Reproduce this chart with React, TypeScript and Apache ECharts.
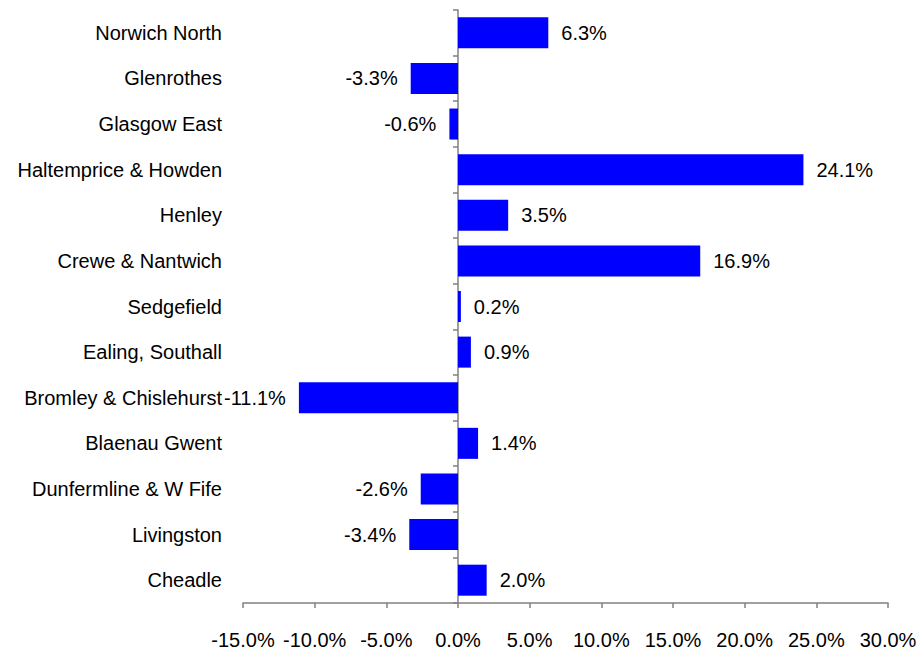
import React, { useEffect, useRef } from "react";
import * as echarts from "echarts";

const categories = [
  "Norwich North",
  "Glenrothes",
  "Glasgow East",
  "Haltemprice & Howden",
  "Henley",
  "Crewe & Nantwich",
  "Sedgefield",
  "Ealing, Southall",
  "Bromley & Chislehurst",
  "Blaenau Gwent",
  "Dunfermline & W Fife",
  "Livingston",
  "Cheadle",
];
const values = [6.3, -3.3, -0.6, 24.1, 3.5, 16.9, 0.2, 0.9, -11.1, 1.4, -2.6, -3.4, 2.0];

const FONT = "'Liberation Sans', Arial, sans-serif";
const FS = 20;

export default function App() {
  const ref = useRef<HTMLDivElement>(null);
  useEffect(() => {
    if (!ref.current) return;
    const chart = echarts.init(ref.current, undefined, { renderer: "svg" });
    chart.setOption({
      animation: false,
      backgroundColor: "#ffffff",
      grid: { left: 243, right: 30, top: 10, bottom: 48, containLabel: false, outerBoundsMode: "none" },
      xAxis: {
        type: "value",
        min: -15,
        max: 30,
        interval: 5,
        splitLine: { show: false },
        axisLine: { show: true, lineStyle: { color: "#808080", width: 1.5 } },
        axisTick: { show: true, length: 5, lineStyle: { color: "#808080", width: 1.5 } },
        axisLabel: {
          formatter: (v: number) => v.toFixed(1) + "%",
          color: "#000",
          fontFamily: FONT,
          fontSize: FS,
          margin: 27,
          hideOverlap: false,
          showMinLabel: true,
          showMaxLabel: true,
        },
      },
      yAxis: {
        type: "category",
        inverse: true,
        data: categories,
        axisLine: { show: true, onZero: true, lineStyle: { color: "#808080", width: 1.5 } },
        axisTick: { show: true, length: 5, lineStyle: { color: "#808080", width: 1.5 } },
        axisLabel: {
          color: "#000",
          fontFamily: FONT,
          fontSize: FS,
          margin: 21,
          interval: 0,
          hideOverlap: false,
          padding: [4, 0, 0, 0],
        },
      },
      series: [
        {
          type: "bar",
          barCategoryGap: "32%",
          itemStyle: { color: "#0000ff" },
          data: values.map((v) => ({
            value: v,
            label: {
              show: true,
              position: v >= 0 ? "right" : "left",
              distance: 13,
              formatter: v.toFixed(1) + "%",
              color: "#000",
              fontFamily: FONT,
              fontSize: FS,
              padding: [4, 0, 0, 0],
            },
          })),
        },
      ],
    });
    return () => chart.dispose();
  }, []);
  return <div ref={ref} style={{ width: 918, height: 651, position: "absolute", left: 0, top: 0 }} />;
}
